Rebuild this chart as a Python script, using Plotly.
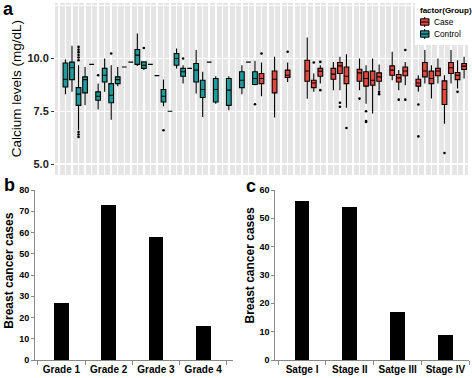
import plotly.graph_objects as go

FONT = "Liberation Sans"
W, H = 472, 378

# ---------------- Panel a: calcium levels per sample ----------------
sample_slots = list(range(1, 64))  # discrete x categories (gridlines)

control_pos = [2, 3, 4, 5, 6, 7, 8, 9, 10, 11, 12, 13, 14, 15, 16, 17, 18, 19, 20, 21, 22, 23, 24, 25, 27, 29, 30, 31]
control_lo  = [8.31, 8.42, 6.60, 7.78, 9.72, 7.58, 8.42, 7.10, 8.69, 9.60, 9.83, 9.65, 9.45, 9.72, 9.19, 7.74, 7.50, 9.53, 8.81, 9.53, 8.34, 7.23, 9.83, 7.86, 7.55, 8.31, 9.83, 8.73]
control_q1  = [8.65, 9.00, 7.78, 8.37, 9.72, 8.02, 8.89, 7.90, 8.81, 9.60, 9.83, 9.72, 9.53, 9.72, 9.19, 7.94, 7.50, 9.68, 9.16, 9.53, 8.89, 8.15, 9.83, 7.94, 7.78, 8.62, 9.83, 8.77]
control_med = [9.02, 9.56, 8.31, 9.00, 9.72, 8.21, 9.21, 8.26, 9.00, 9.60, 9.83, 10.16, 9.68, 9.72, 9.19, 8.21, 7.50, 10.00, 9.37, 9.53, 9.45, 8.53, 9.83, 8.53, 8.50, 8.97, 9.83, 9.05]
control_q3  = [9.79, 9.83, 8.62, 9.13, 9.72, 8.42, 9.53, 8.81, 9.13, 9.60, 9.83, 10.43, 9.84, 9.72, 9.19, 8.53, 7.50, 10.24, 9.53, 9.53, 9.76, 8.97, 9.83, 9.05, 9.05, 9.37, 9.83, 9.37]
control_hi  = [9.95, 10.60, 9.68, 9.60, 9.72, 8.81, 10.00, 9.68, 9.60, 9.60, 9.83, 11.19, 9.84, 9.72, 9.19, 9.00, 7.50, 10.47, 9.68, 9.53, 10.40, 9.37, 9.83, 9.16, 9.16, 9.68, 9.83, 9.89]
control_out_x = [4, 4, 4, 4, 4, 4, 4, 4, 4, 7, 9, 14, 17, 20, 31]
control_out_y = [10.55, 10.42, 10.30, 10.17, 10.05, 9.92, 6.52, 6.40, 6.28, 9.21, 10.24, 10.50, 6.60, 10.00, 7.83]

case_pos = [32, 34, 36, 39, 40, 41, 43, 44, 45, 47, 48, 49, 50, 52, 53, 54, 56, 57, 58, 59, 60, 61, 62, 63]
case_lo  = [8.21, 7.20, 8.89, 8.09, 8.42, 8.81, 8.50, 8.50, 7.67, 8.50, 7.86, 7.39, 8.50, 8.97, 8.50, 8.73, 8.42, 8.81, 8.10, 8.81, 6.91, 8.81, 8.58, 9.05]
case_q1  = [8.81, 8.37, 9.10, 8.92, 8.62, 9.16, 9.02, 9.29, 8.81, 8.92, 8.69, 8.73, 8.92, 9.21, 8.89, 9.18, 8.69, 9.13, 8.81, 9.18, 7.82, 9.29, 9.00, 9.48]
case_med = [9.05, 9.02, 9.21, 9.41, 8.84, 9.40, 9.26, 9.65, 9.16, 9.32, 9.05, 8.97, 9.13, 9.45, 9.08, 9.41, 8.84, 9.41, 9.05, 9.41, 8.53, 9.56, 9.21, 9.64]
case_q3  = [9.29, 9.41, 9.45, 9.92, 8.97, 9.53, 9.53, 9.81, 9.60, 9.49, 9.37, 9.40, 9.32, 9.65, 9.24, 9.60, 9.02, 9.81, 9.40, 9.53, 8.94, 9.81, 9.34, 9.76]
case_hi  = [9.81, 10.08, 9.81, 11.00, 9.29, 9.68, 9.84, 10.08, 10.20, 10.00, 9.68, 10.00, 9.72, 10.32, 9.45, 9.84, 9.21, 10.40, 9.68, 10.00, 9.21, 10.40, 9.92, 10.08]
case_out_x = [32, 36, 40, 41, 41, 44, 44, 45, 47, 48, 48, 48, 50, 50, 53, 54, 54, 56, 56, 60, 62]
case_out_y = [10.24, 10.32, 9.81, 9.84, 8.50, 7.90, 7.71, 6.71, 8.10, 7.50, 7.04, 6.99, 8.42, 8.31, 8.05, 10.40, 8.05, 7.82, 6.31, 5.52, 8.42]

y_a_ticks = [5.0, 7.5, 10.0]
y_a_labels = ["5.0", "7.5", "10.0"]

legend_title = "factor(Group)"
group_names = ["Case", "Control"]

# ---------------- Panel b: grade ----------------
grade_labels = ["Grade 1", "Grade 2", "Grade 3", "Grade 4"]
grade_cases = [27, 73, 58, 16]

# ---------------- Panel c: stage ----------------
stage_labels = ["Satge I", "Stage II", "Satge III", "Stage IV"]
stage_cases = [56, 54, 17, 9]

CASE_COLOR = "#E4473E"
CONTROL_COLOR = "#1E9C9D"
group_colors = [CASE_COLOR, CONTROL_COLOR]

fig = go.Figure()

fig.add_trace(go.Box(
    x=case_pos, q1=case_q1, median=case_med, q3=case_q3,
    lowerfence=case_lo, upperfence=case_hi,
    orientation="v", name=group_names[0], fillcolor=CASE_COLOR,
    line=dict(color="black", width=1.1), width=0.72, whiskerwidth=0,
    boxpoints=False, xaxis="x", yaxis="y", hoverinfo="skip", showlegend=False))
fig.add_trace(go.Box(
    x=control_pos, q1=control_q1, median=control_med, q3=control_q3,
    lowerfence=control_lo, upperfence=control_hi,
    orientation="v", name=group_names[1], fillcolor=CONTROL_COLOR,
    line=dict(color="black", width=1.1), width=0.72, whiskerwidth=0,
    boxpoints=False, xaxis="x", yaxis="y", hoverinfo="skip", showlegend=False))
fig.add_trace(go.Scatter(
    x=control_out_x + case_out_x, y=control_out_y + case_out_y,
    mode="markers", marker=dict(color="black", size=2.6),
    showlegend=False, xaxis="x", yaxis="y", hoverinfo="skip"))

fig.add_trace(go.Bar(x=[0, 1, 2, 3], y=grade_cases, marker=dict(color="black", line=dict(width=0)),
                     width=0.31, xaxis="x2", yaxis="y2", showlegend=False))
fig.add_trace(go.Bar(x=[0, 1, 2, 3], y=stage_cases, marker=dict(color="black", line=dict(width=0)),
                     width=0.31, xaxis="x3", yaxis="y3", showlegend=False))


def px_x(p):
    return p / W


def px_y(p):
    return 1 - p / H


shapes = [dict(type="rect", xref="x domain", yref="y domain", x0=0, x1=1, y0=0, y1=1,
               fillcolor="#E5E5E5", line=dict(width=0), layer="below"),
          # legend background
          dict(type="rect", xref="paper", yref="paper", x0=px_x(415), x1=1, y0=px_y(45), y1=1,
               fillcolor="white", line=dict(width=0), layer="above")]
annotations = []

# legend (compact, ggplot style)
annotations.append(dict(text="<b>" + legend_title + "</b>", x=px_x(417.5), y=px_y(11),
                        xref="paper", yref="paper", xanchor="left", yanchor="middle",
                        showarrow=False, font=dict(size=8, family=FONT)))
for k, (name, col) in enumerate(zip(group_names, group_colors)):
    cy = 22 + 12 * k
    shapes.append(dict(type="line", xref="paper", yref="paper", x0=px_x(424.7), x1=px_x(424.7),
                       y0=px_y(cy - 5), y1=px_y(cy + 5), line=dict(color="black", width=1), layer="above"))
    shapes.append(dict(type="rect", xref="paper", yref="paper", x0=px_x(420.5), x1=px_x(429),
                       y0=px_y(cy - 3.2), y1=px_y(cy + 3.2), fillcolor=col,
                       line=dict(color="black", width=1), layer="above"))
    shapes.append(dict(type="line", xref="paper", yref="paper", x0=px_x(420.5), x1=px_x(429),
                       y0=px_y(cy), y1=px_y(cy), line=dict(color="black", width=1), layer="above"))
    annotations.append(dict(text=name, x=px_x(431.5), y=px_y(cy), xref="paper", yref="paper",
                            xanchor="left", yanchor="middle", showarrow=False,
                            font=dict(size=8.3, family=FONT)))

annotations += [
    dict(text="<b>a</b>", x=px_x(1), y=px_y(9), xref="paper", yref="paper",
         xanchor="left", yanchor="middle", showarrow=False, font=dict(size=18, family=FONT)),
    dict(text="<b>b</b>", x=px_x(2), y=px_y(185), xref="paper", yref="paper",
         xanchor="left", yanchor="middle", showarrow=False, font=dict(size=18, family=FONT)),
    dict(text="<b>c</b>", x=px_x(244), y=px_y(186), xref="paper", yref="paper",
         xanchor="left", yanchor="middle", showarrow=False, font=dict(size=18, family=FONT)),
    dict(text="Calcium levels (mg/dL)", x=px_x(16.7), y=px_y(88.5), xref="paper", yref="paper",
         textangle=-90, xanchor="center", yanchor="middle", showarrow=False,
         font=dict(size=13.5, family=FONT)),
    dict(text="<b>Breast cancer cases</b>", x=px_x(8.7), y=px_y(271), xref="paper", yref="paper",
         textangle=-90, xanchor="center", yanchor="middle", showarrow=False,
         font=dict(size=12, family=FONT)),
    dict(text="<b>Breast cancer cases</b>", x=px_x(249.5), y=px_y(266), xref="paper", yref="paper",
         textangle=-90, xanchor="center", yanchor="middle", showarrow=False,
         font=dict(size=12, family=FONT)),
]

fig.update_layout(
    width=W, height=H, margin=dict(l=0, r=0, t=0, b=0, autoexpand=False),
    paper_bgcolor="white", plot_bgcolor="white",
    boxmode="overlay", bargap=0, showlegend=False,
    font=dict(family=FONT, color="black"),
    xaxis=dict(domain=[px_x(55), px_x(468)], anchor="y", range=[0.4, 63.6], automargin=False,
               tickvals=sample_slots, showticklabels=False, ticks="",
               showgrid=True, gridcolor="white", gridwidth=1.5,
               zeroline=False, showline=False, fixedrange=True),
    yaxis=dict(domain=[px_y(175), px_y(3)], anchor="x", range=[4.48, 12.63], automargin=False,
               tickvals=y_a_ticks, ticktext=y_a_labels, ticks="outside", ticklen=3,
               tickcolor="#333333", tickfont=dict(size=11, color="#222222", family=FONT, weight="bold"),
               showgrid=True, gridcolor="white", gridwidth=1.5,
               minor=dict(tickvals=[12.5], showgrid=True, gridcolor="white", gridwidth=1.5, ticks=""),
               zeroline=False, showline=False, fixedrange=True),
    xaxis2=dict(domain=[px_x(35), px_x(233)], anchor="y2", range=[-0.56, 3.63], automargin=False,
                tickvals=[0, 1, 2, 3], ticktext=grade_labels, ticks="",
                tickfont=dict(size=10, family=FONT, weight="bold"),
                minor=dict(tickvals=[-0.5, 0.5, 1.5, 2.5, 3.5], ticks="outside", ticklen=4, tickcolor="#888888"),
                showline=True, linecolor="#888888", linewidth=1, showgrid=False, zeroline=False),
    yaxis2=dict(domain=[px_y(360), px_y(190)], anchor="x2", range=[0, 80], dtick=10, automargin=False,
                ticks="outside", ticklen=3, tickcolor="#888888",
                tickfont=dict(size=9, family=FONT, weight="bold"),
                showline=True, linecolor="#888888", linewidth=1, showgrid=False, zeroline=False),
    xaxis3=dict(domain=[px_x(275.3), px_x(469.3)], anchor="y3", range=[-0.56, 3.5], automargin=False,
                tickvals=[0, 1, 2, 3], ticktext=stage_labels, ticks="",
                tickfont=dict(size=10, family=FONT, weight="bold"),
                minor=dict(tickvals=[-0.5, 0.5, 1.5, 2.5, 3.5], ticks="outside", ticklen=4, tickcolor="#888888"),
                showline=True, linecolor="#888888", linewidth=1, showgrid=False, zeroline=False),
    yaxis3=dict(domain=[px_y(360), px_y(190)], anchor="x3", range=[0, 60], dtick=10, automargin=False,
                ticks="outside", ticklen=3, tickcolor="#888888",
                tickfont=dict(size=9, family=FONT, weight="bold"),
                showline=True, linecolor="#888888", linewidth=1, showgrid=False, zeroline=False),
    shapes=shapes,
    annotations=annotations,
)

fig.write_html("out.html",
               config={"displayModeBar": False, "staticPlot": True},
               post_script="document.body.style.margin='0px';document.body.style.overflow='hidden';")
